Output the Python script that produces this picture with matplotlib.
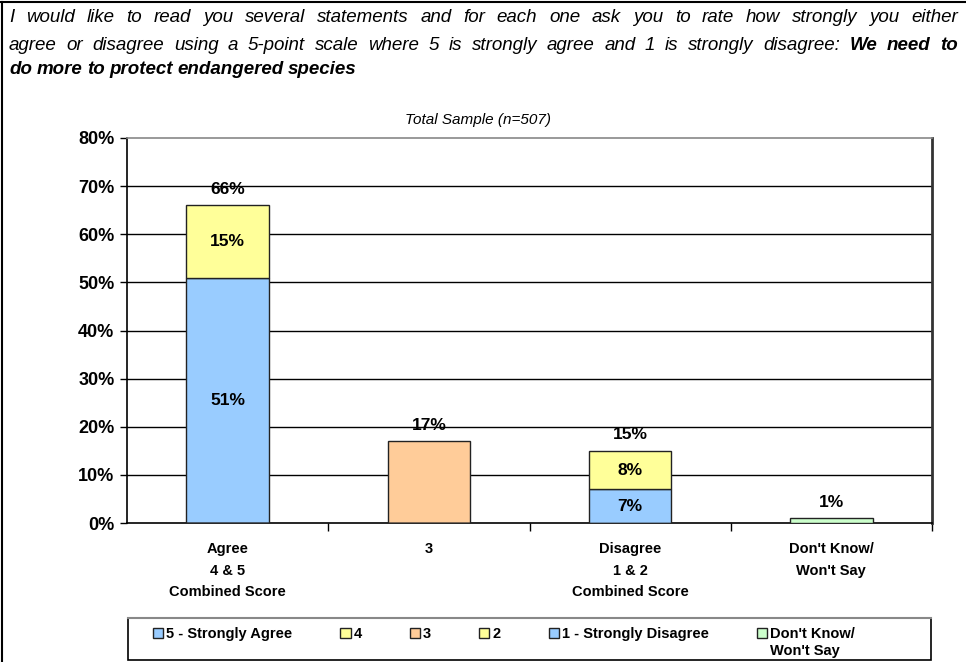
import matplotlib.pyplot as plt
from matplotlib import font_manager
from matplotlib.lines import Line2D
from matplotlib.patches import Patch, Rectangle

# data
categories = ["Agree\n4 & 5\nCombined Score", "3", "Disagree\n1 & 2\nCombined Score", "Don't Know/\nWon't Say"]
strongly_agree = [51, 0, 0, 0]
agree4 = [15, 0, 0, 0]
neutral = [0, 17, 0, 0]
disagree2 = [0, 0, 8, 0]
strongly_disagree = [0, 0, 7, 0]
dont_know = [0, 0, 0, 1]
totals = [66, 17, 15, 1]
yticks = [0, 10, 20, 30, 40, 50, 60, 70, 80]
legend_labels = ["5 - Strongly Agree", "4", "3", "2", "1 - Strongly Disagree", "Don't Know/"]

blue = '#99CCFF'
yellow = '#FFFF99'
orange = '#FFCC99'
green = '#CCFFCC'


def pick_font(names, default='DejaVu Sans'):
    for n in names:
        try:
            font_manager.findfont(n, fallback_to_default=False)
            return n
        except Exception:
            pass
    return default


narrow = pick_font(['Liberation Sans Narrow', 'Arial Narrow'], 'Liberation Sans')
sans = pick_font(['Liberation Sans', 'Arial'])

plt.rcParams['font.family'] = sans

fig = plt.figure(figsize=(9.66, 6.62), dpi=100)
W, H = 966, 662
ax = fig.add_axes([127 / W, 1 - 523 / H, (932 - 127) / W, (523 - 138) / H])

x = range(len(categories))
bw = 0.41
ec = '#222222'
b5 = ax.bar(x, strongly_agree, bw, color=blue, edgecolor=ec, lw=1, zorder=3)
b4 = ax.bar(x, agree4, bw, bottom=strongly_agree, color=yellow, edgecolor=ec, lw=1, zorder=3)
b3 = ax.bar(x, neutral, bw, color=orange, edgecolor=ec, lw=1, zorder=3)
b1 = ax.bar(x, strongly_disagree, bw, color=blue, edgecolor=ec, lw=1, zorder=3)
b2 = ax.bar(x, disagree2, bw, bottom=strongly_disagree, color=yellow, edgecolor=ec, lw=1, zorder=3)
bdk = ax.bar(x, dont_know, bw, color=green, edgecolor=ec, lw=1, zorder=3)

# segment labels
for bars, vals, bottoms in [(b5, strongly_agree, [0] * 4), (b4, agree4, strongly_agree),
                            (b1, strongly_disagree, [0] * 4), (b2, disagree2, strongly_disagree)]:
    for i, v in enumerate(vals):
        if v > 0:
            ax.text(i, bottoms[i] + v / 2, f"{v}%", ha='center', va='center',
                    fontsize=12.5, fontweight='bold', zorder=4)

for i, t in enumerate(totals):
    ax.annotate(f"{t}%", (i, t), xytext=(0, 6), textcoords='offset points',
                ha='center', va='bottom', fontsize=12.5, fontweight='bold', zorder=4)

ax.set_ylim(0, 80)
ax.set_xlim(-0.5, len(categories) - 0.5)
ax.set_yticks(yticks)
ax.set_yticklabels([f"{v}%" for v in yticks], fontsize=13, fontweight='bold')
ax.set_xticks(list(x))
ax.set_xticklabels(categories, fontsize=10.5, fontweight='bold', linespacing=1.65, va='top')
ax.tick_params(axis='x', length=0, pad=14)
ax.tick_params(axis='y', length=5, width=1, pad=4)
ax.set_xticks([0.5, 1.5, 2.5, 3.5], minor=True)
ax.tick_params(axis='x', which='minor', length=6, width=1, direction='out')

for v in yticks[1:-1]:
    ax.axhline(v, color='black', lw=1, zorder=1)

ax.spines['left'].set_color('black')
ax.spines['bottom'].set_color('black')
ax.spines['right'].set_color('#333333')
ax.spines['top'].set_color('#888888')
for s in ax.spines.values():
    s.set_linewidth(1.2)
ax.spines['right'].set_linewidth(2)

# subtitle
fig.text(478 / W, 1 - 120 / H, "Total Sample (n=507)", ha='center', va='center',
         fontsize=11, style='italic', family=narrow)

# title with justified lines
renderer = fig.canvas.get_renderer()
title_lines = [
    ([(w, 'normal') for w in "I would like to read you several statements and for each one ask you to rate how strongly you either".split()], True, 18),
    ([(w, 'normal') for w in "agree or disagree using a 5-point scale where 5 is strongly agree and 1 is strongly disagree:".split()]
     + [(w, 'bold') for w in "We need to".split()], True, 45),
    ([(w, 'bold') for w in "do more to protect endangered species".split()], False, 70),
]
x0, x1 = 9, 958
for words, justify, yc in title_lines:
    texts = [fig.text(0, 1 - yc / H, w, fontsize=13.5, style='italic', fontweight=wt,
                      family=narrow, va='center', ha='left') for w, wt in words]
    widths = [t.get_window_extent(renderer).width for t in texts]
    if justify:
        gap = (x1 - x0 - sum(widths)) / (len(texts) - 1)
    else:
        gap = 4.5
    pos = x0
    for t, w in zip(texts, widths):
        t.set_x(pos / W)
        pos += w + gap

# figure border (left and top)
fig.add_artist(Line2D([1.5 / W, 1.5 / W], [0, 1 - 1.5 / H], color='black', lw=1.5))
fig.add_artist(Line2D([0, 1], [1 - 1.5 / H, 1 - 1.5 / H], color='black', lw=1.5))

# legend box
fig.add_artist(Rectangle((128 / W, 1 - 660 / H), (931 - 128) / W, (660 - 618) / H,
                         transform=fig.transFigure, facecolor='white', edgecolor='black', lw=1.2))
fig.add_artist(Line2D([128 / W, 931 / W], [1 - 618 / H, 1 - 618 / H], color='#888888', lw=1.5))

handles = [Patch(facecolor=blue, edgecolor=ec), Patch(facecolor=yellow, edgecolor=ec),
           Patch(facecolor=orange, edgecolor=ec), Patch(facecolor=yellow, edgecolor=ec),
           Patch(facecolor=blue, edgecolor=ec), Patch(facecolor=green, edgecolor=ec)]
leg_fs = 10.5
leg = fig.legend(handles, legend_labels, ncol=6, loc='upper left',
                 bbox_to_anchor=(153 / W, 1 - 627 / H),
                 prop={'family': sans, 'weight': 'bold', 'size': leg_fs},
                 handlelength=0.7, handleheight=0.7, handletextpad=0.2,
                 frameon=False, borderpad=0, borderaxespad=0, columnspacing=3.3)

# second line of the last legend label
fig.canvas.draw()
last = leg.get_texts()[-1].get_window_extent(renderer)
fig.text(last.x0 / W, (last.y0 - 3) / H, "Won't Say", ha='left', va='top',
         fontsize=leg_fs, fontweight='bold')

fig.savefig('out.png', dpi=100)
